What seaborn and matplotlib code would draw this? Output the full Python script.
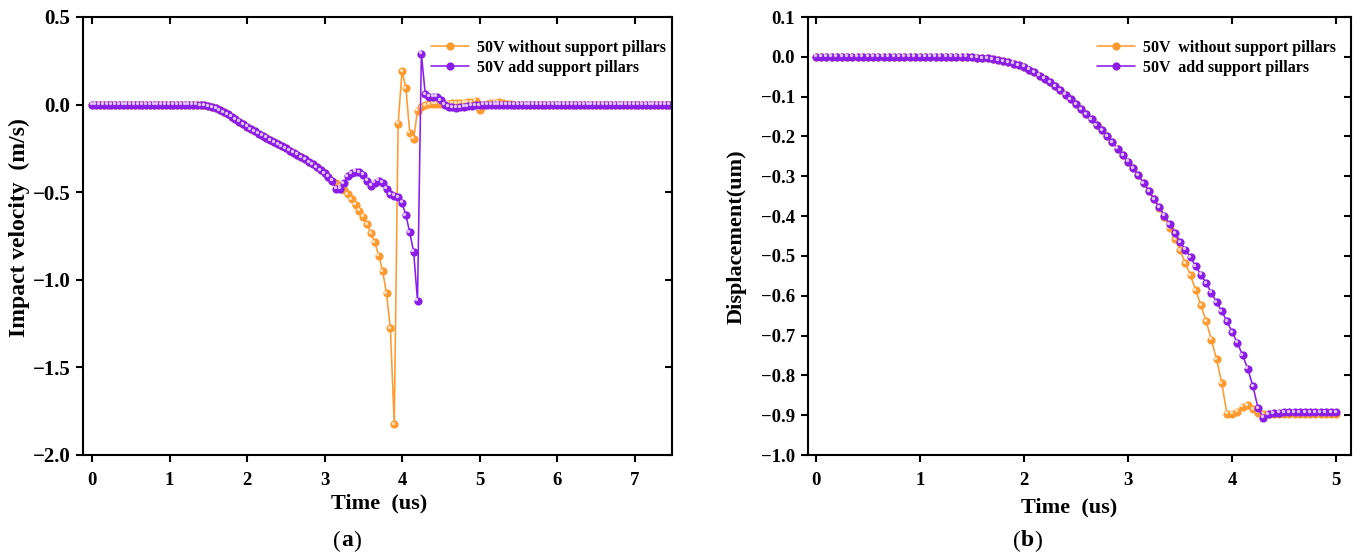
import numpy as np
import matplotlib
matplotlib.use("Agg")
import matplotlib.pyplot as plt
import matplotlib.transforms as mtransforms
import seaborn as sns

# ---------------- data ----------------
time_a = [0.00, 0.05, 0.10, 0.15, 0.20, 0.25, 0.30, 0.35, 0.40, 0.45, 0.50, 0.55, 0.60, 0.65, 0.70,
          0.75, 0.80, 0.85, 0.90, 0.95, 1.00, 1.05, 1.10, 1.15, 1.20, 1.25, 1.30, 1.35, 1.40, 1.45,
          1.50, 1.55, 1.60, 1.65, 1.70, 1.75, 1.80, 1.85, 1.90, 1.95, 2.00, 2.05, 2.10, 2.15, 2.20,
          2.25, 2.30, 2.35, 2.40, 2.45, 2.50, 2.55, 2.60, 2.65, 2.70, 2.75, 2.80, 2.85, 2.90, 2.95,
          3.00, 3.05, 3.10, 3.15, 3.20, 3.25, 3.30, 3.35, 3.40, 3.45, 3.50, 3.55, 3.60, 3.65, 3.70,
          3.75, 3.80, 3.85, 3.90, 3.95, 4.00, 4.05, 4.10, 4.15, 4.20, 4.25, 4.30, 4.35, 4.40, 4.45,
          4.50, 4.55, 4.60, 4.65, 4.70, 4.75, 4.80, 4.85, 4.90, 4.95, 5.00, 5.05, 5.10, 5.15, 5.20,
          5.25, 5.30, 5.35, 5.40, 5.45, 5.50, 5.55, 5.60, 5.65, 5.70, 5.75, 5.80, 5.85, 5.90, 5.95,
          6.00, 6.05, 6.10, 6.15, 6.20, 6.25, 6.30, 6.35, 6.40, 6.45, 6.50, 6.55, 6.60, 6.65, 6.70,
          6.75, 6.80, 6.85, 6.90, 6.95, 7.00, 7.05, 7.10, 7.15, 7.20, 7.25, 7.30, 7.35, 7.40, 7.45,
          7.50]

vel_without = ([0.0] * 28 +
               [-0.002, -0.004, -0.008, -0.014, -0.022, -0.032, -0.043, -0.056, -0.070, -0.084,
                -0.098, -0.112, -0.126, -0.139, -0.152, -0.165, -0.178, -0.190, -0.202, -0.214,
                -0.226, -0.238, -0.250, -0.262, -0.274, -0.287, -0.300, -0.313, -0.327, -0.341,
                -0.357, -0.374, -0.392, -0.412, -0.434,
                -0.450, -0.465, -0.485, -0.510, -0.539, -0.571, -0.606, -0.640, -0.682, -0.735,
                -0.787, -0.862, -0.950, -1.076, -1.277, -1.825, -0.110, 0.190, 0.095, -0.160,
                -0.195, -0.035, -0.015, -0.003, 0.003, 0.005, 0.006, 0.006, 0.006, 0.006,
                0.007, 0.008, 0.009, 0.010, 0.012, 0.014, 0.022, -0.028, -0.006, 0.004,
                0.008, 0.010, 0.012, 0.008, 0.004, 0.002] +
               [0.0] * 42)

vel_add = ([0.0] * 28 +
           [-0.002, -0.004, -0.008, -0.014, -0.022, -0.032, -0.043, -0.056, -0.070, -0.084,
            -0.098, -0.112, -0.126, -0.139, -0.152, -0.165, -0.178, -0.190, -0.202, -0.214,
            -0.226, -0.238, -0.250, -0.262, -0.274, -0.287, -0.300, -0.313, -0.327, -0.341,
            -0.357, -0.374, -0.392, -0.412, -0.434,
            -0.480, -0.480, -0.450, -0.410, -0.390, -0.383, -0.385, -0.400, -0.435, -0.462,
            -0.445, -0.435, -0.445, -0.480, -0.512, -0.520, -0.530, -0.560, -0.630, -0.730,
            -0.840, -1.120, 0.290, 0.060, 0.046, 0.046, 0.046, 0.025, 0.000, -0.012,
            -0.016, -0.017, -0.016, -0.013, -0.010, -0.007, -0.004, -0.002] +
           [0.0] * 50)

time_b = time_a[:101]

disp_add = ([0.0] * 30 +
            [-0.001, -0.002, -0.003, -0.004, -0.006, -0.008, -0.011, -0.014, -0.017, -0.021,
             -0.025, -0.032, -0.039, -0.047, -0.055, -0.064, -0.074, -0.084, -0.095, -0.107,
             -0.119, -0.131, -0.144, -0.157, -0.171, -0.185, -0.200, -0.215, -0.231, -0.247,
             -0.263, -0.280, -0.298, -0.317, -0.337, -0.357, -0.378, -0.399, -0.420, -0.443,
             -0.465, -0.484, -0.503, -0.526, -0.547, -0.568, -0.592, -0.616, -0.639, -0.664,
             -0.691, -0.718, -0.749, -0.783, -0.827, -0.883, -0.906, -0.898, -0.895, -0.894,
             -0.893] +
            [-0.893] * 10)

disp_without = (disp_add[:66] +
                [-0.379, -0.403, -0.430, -0.458, -0.486, -0.518, -0.549, -0.586, -0.624, -0.664,
                 -0.710, -0.759, -0.819, -0.896, -0.896, -0.891, -0.879, -0.875, -0.885, -0.894,
                 -0.898] +
                [-0.898] * 14)

labels_a = ["50V without support pillars", "50V add support pillars"]
labels_b = ["50V  without support pillars", "50V  add support pillars"]
xticks_a = [0, 1, 2, 3, 4, 5, 6, 7]
yticks_a = [-2.0, -1.5, -1.0, -0.5, 0.0, 0.5]
xticks_b = [0, 1, 2, 3, 4, 5]
yticks_b = [-1.0, -0.9, -0.8, -0.7, -0.6, -0.5, -0.4, -0.3, -0.2, -0.1, 0.0, 0.1]

# ---------------- style ----------------
sns.set_theme(style="ticks")
plt.rcParams['font.family'] = ['Liberation Serif', 'DejaVu Serif']
plt.rcParams['text.color'] = 'black'
plt.rcParams['axes.labelcolor'] = 'black'
plt.rcParams['xtick.color'] = 'black'
plt.rcParams['ytick.color'] = 'black'

ORANGE = "#FF9A30"
PURPLE = "#8A1EE8"
ORANGE_HI = "#FFE9C8"
PURPLE_HI = "#EBD8FF"

fig = plt.figure(figsize=(13.6, 5.55), dpi=100)
axa = fig.add_axes([82.7 / 1360, 100 / 555, 589 / 1360, 438 / 555])
axb = fig.add_axes([807.7 / 1360, 100 / 555, 543 / 1360, 438 / 555])

hl = mtransforms.ScaledTranslation(-1.0 / 72, 1.0 / 72, fig.dpi_scale_trans)


def draw(ax, t, y, color, hicolor, label):
    sns.lineplot(x=t, y=y, ax=ax, color=color, marker='o', markersize=5.9,
                 markeredgewidth=0, linewidth=1.15, label=label, sort=False,
                 errorbar=None)
    ax.plot(t, y, ls='none', marker='o', markersize=2.4, markeredgewidth=0,
            color=hicolor, alpha=0.9, transform=ax.transData + hl)


draw(axa, time_a, vel_without, ORANGE, ORANGE_HI, labels_a[0])
draw(axa, time_a, vel_add, PURPLE, PURPLE_HI, labels_a[1])
draw(axb, time_b, disp_without, ORANGE, ORANGE_HI, labels_b[0])
draw(axb, time_b, disp_add, PURPLE, PURPLE_HI, labels_b[1])

for ax in (axa, axb):
    for s in ax.spines.values():
        s.set_visible(True)
        s.set_linewidth(1.5)
        s.set_color('black')
    ax.tick_params(axis='both', which='major', direction='out', length=5, width=1.5,
                   colors='black')
    ax.tick_params(axis='x', pad=7)
    ax.tick_params(axis='y', pad=4)
    ax.grid(False)


def fmt(v):
    return "\u2212%.1f" % abs(v) if v < 0 else "%.1f" % v


axa.set_xlim(-0.12, 7.48)
axa.set_ylim(-2.0, 0.5)
axa.set_xticks(xticks_a)
axa.set_yticks(yticks_a)
axa.set_xticklabels([str(v) for v in xticks_a], fontweight='bold', fontsize=13.5)
axa.set_yticklabels([fmt(v) for v in yticks_a], fontweight='bold', fontsize=15)

axb.set_xlim(-0.08, 5.14)
axb.set_ylim(-1.0, 0.1)
axb.set_xticks(xticks_b)
axb.set_yticks(yticks_b)
axb.set_xticklabels([str(v) for v in xticks_b], fontweight='bold', fontsize=13.5)
axb.set_yticklabels([fmt(v) for v in yticks_b], fontweight='bold', fontsize=13.5)

# mirrored inward ticks on top and right
for ax in (axa, axb):
    ax.tick_params(axis='x', which='major', top=True, labeltop=False)
    ax.tick_params(axis='y', which='major', right=True, labelright=False)
    for tk in ax.xaxis.get_major_ticks():
        tk.tick2line.set_marker(matplotlib.markers.TICKDOWN)
    for tk in ax.yaxis.get_major_ticks():
        tk.tick2line.set_marker(matplotlib.markers.TICKLEFT)

axa.set_xlabel("Time  (us)", fontsize=16, fontweight='bold')
axa.set_ylabel("Impact velocity  (m/s)", fontsize=17, fontweight='bold')
axa.xaxis.set_label_coords((379 - 82.7) / 589, -0.087)
axa.yaxis.set_label_coords(-0.089, (455 - 228) / 438)

axb.set_xlabel("Time  (us)", fontsize=16, fontweight='bold')
axb.set_ylabel("Displacement(um)", fontsize=16, fontweight='bold')
axb.xaxis.set_label_coords((1069 - 807.7) / 543, -0.098)
axb.yaxis.set_label_coords(-0.112, (455 - 237) / 438)

# legends
la = axa.legend(loc='upper left', bbox_to_anchor=(0.58, 0.963), frameon=False,
                prop=dict(family='Liberation Serif', weight='bold', size=11.5),
                handlelength=2.4, handletextpad=0.5, labelspacing=0.25, borderaxespad=0)
lb = axb.legend(loc='upper left', bbox_to_anchor=(0.521, 0.963), frameon=False,
                prop=dict(family='Liberation Serif', weight='bold', size=11.5),
                handlelength=2.4, handletextpad=0.5, labelspacing=0.25, borderaxespad=0)

# captions "(a)" and "(b)" with bold letter
inv = fig.transFigure.inverted()
for cx, letter in ((345, 'a'), (1025, 'b')):
    ypos = (555 - 541) / 555
    t1 = fig.text((cx - 12) / 1360, ypos, "(", fontsize=17,
                  ha='left', va='center', family='Liberation Serif')
    fig.canvas.draw()
    bb = t1.get_window_extent()
    x1, _ = inv.transform((bb.x1, bb.y0))
    t2 = fig.text(x1, ypos, letter, fontsize=17, fontweight='bold',
                  ha='left', va='center', family='Liberation Serif')
    fig.canvas.draw()
    bb2 = t2.get_window_extent()
    x2, _ = inv.transform((bb2.x1, bb2.y0))
    fig.text(x2, ypos, ")", fontsize=17, ha='left', va='center',
             family='Liberation Serif')

fig.savefig("out.png", dpi=100, facecolor='white')
